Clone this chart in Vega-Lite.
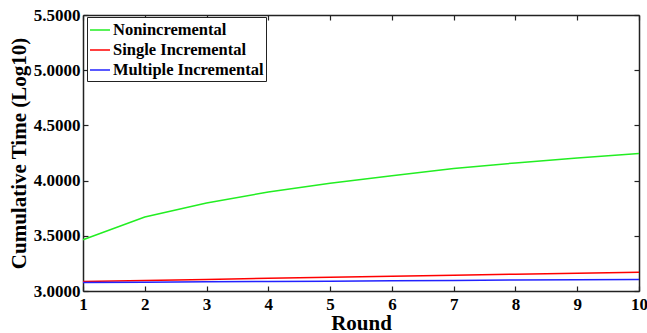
{
  "$schema": "https://vega.github.io/schema/vega-lite/v6.json",
  "width": 556,
  "height": 276,
  "autosize": {"type": "none"},
  "padding": {"left": 83, "top": 15, "right": 8, "bottom": 42},
  "background": "white",
  "config": {
    "view": {"stroke": null},
    "font": "Liberation Serif",
    "axis": {
      "grid": false,
      "domainColor": "#222",
      "domainWidth": 1.5,
      "tickColor": "#222",
      "tickWidth": 1.2,
      "tickSize": -5,
      "labelFont": "Liberation Serif",
      "labelFontWeight": "bold",
      "labelFontSize": 17,
      "labelColor": "black",
      "titleFont": "Liberation Serif",
      "titleFontWeight": "bold",
      "titleFontSize": 21,
      "titleColor": "black"
    }
  },
  "data": {
    "values": [
      {"round": 1, "series": "Nonincremental", "time": 3.464},
      {"round": 2, "series": "Nonincremental", "time": 3.67},
      {"round": 3, "series": "Nonincremental", "time": 3.797},
      {"round": 4, "series": "Nonincremental", "time": 3.897},
      {"round": 5, "series": "Nonincremental", "time": 3.975},
      {"round": 6, "series": "Nonincremental", "time": 4.045},
      {"round": 7, "series": "Nonincremental", "time": 4.11},
      {"round": 8, "series": "Nonincremental", "time": 4.16},
      {"round": 9, "series": "Nonincremental", "time": 4.205},
      {"round": 10, "series": "Nonincremental", "time": 4.245},
      {"round": 1, "series": "Single Incremental", "time": 3.085},
      {"round": 2, "series": "Single Incremental", "time": 3.095},
      {"round": 3, "series": "Single Incremental", "time": 3.105},
      {"round": 4, "series": "Single Incremental", "time": 3.115},
      {"round": 5, "series": "Single Incremental", "time": 3.125},
      {"round": 6, "series": "Single Incremental", "time": 3.134},
      {"round": 7, "series": "Single Incremental", "time": 3.143},
      {"round": 8, "series": "Single Incremental", "time": 3.152},
      {"round": 9, "series": "Single Incremental", "time": 3.161},
      {"round": 10, "series": "Single Incremental", "time": 3.17},
      {"round": 1, "series": "Multiple Incremental", "time": 3.076},
      {"round": 2, "series": "Multiple Incremental", "time": 3.079},
      {"round": 3, "series": "Multiple Incremental", "time": 3.083},
      {"round": 4, "series": "Multiple Incremental", "time": 3.086},
      {"round": 5, "series": "Multiple Incremental", "time": 3.089},
      {"round": 6, "series": "Multiple Incremental", "time": 3.093},
      {"round": 7, "series": "Multiple Incremental", "time": 3.096},
      {"round": 8, "series": "Multiple Incremental", "time": 3.099},
      {"round": 9, "series": "Multiple Incremental", "time": 3.102},
      {"round": 10, "series": "Multiple Incremental", "time": 3.105}
    ]
  },
  "resolve": {"axis": {"x": "independent", "y": "independent"}},
  "layer": [
    {
      "mark": {"type": "line", "strokeWidth": 1.5},
      "encoding": {
        "x": {
          "field": "round", "type": "quantitative",
          "scale": {"domain": [1, 10], "nice": false, "zero": false},
          "axis": {"title": "Round", "values": [1,2,3,4,5,6,7,8,9,10], "labelPadding": 10, "titlePadding": 0, "labelFlush": false}
        },
        "y": {
          "field": "time", "type": "quantitative",
          "scale": {"domain": [3, 5.5], "nice": false, "zero": false},
          "axis": {"title": "Cumulative Time (Log10)", "values": [3, 3.5, 4, 4.5, 5, 5.5], "format": ".4f", "labelPadding": 8, "titlePadding": 4}
        },
        "color": {
          "field": "series", "type": "nominal",
          "scale": {
            "domain": ["Nonincremental", "Single Incremental", "Multiple Incremental"],
            "range": ["#22ee22", "#ff0000", "#2222ff"]
          },
          "legend": {
            "title": null,
            "orient": "none",
            "legendX": 4,
            "legendY": 2,
            "strokeColor": "#222",
            "fillColor": "white",
            "padding": 2,
            "symbolType": "stroke",
            "symbolSize": 400,
            "symbolStrokeWidth": 1.5,
            "labelFont": "Liberation Serif",
            "labelFontWeight": "bold",
            "labelFontSize": 16.5,
            "labelColor": "black",
            "labelOffset": 2,
            "rowPadding": 0,
            "labelLimit": 300
          }
        }
      }
    },
    {
      "mark": {"type": "line", "strokeOpacity": 0},
      "encoding": {
        "x": {
          "field": "round", "type": "quantitative",
          "axis": {"orient": "top", "title": null, "labels": false, "values": [1,2,3,4,5,6,7,8,9,10]}
        },
        "y": {
          "field": "time", "type": "quantitative",
          "axis": {"orient": "right", "title": null, "labels": false, "values": [3, 3.5, 4, 4.5, 5, 5.5]}
        },
        "detail": {"field": "series"}
      }
    }
  ]
}
